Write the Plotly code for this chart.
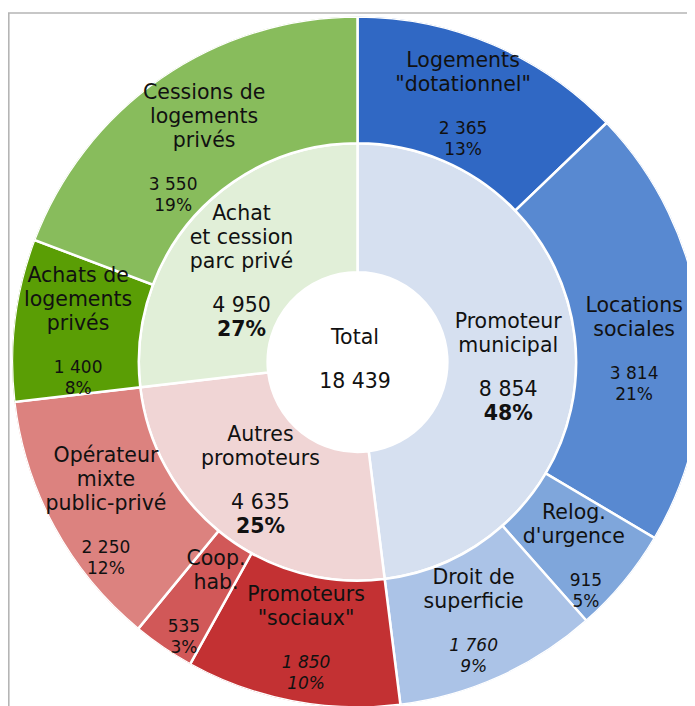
import math
import plotly.graph_objects as go

# ---------------- data ----------------
total_label = "Total"
total_value = 18439

inner_labels = ["Promoteur\nmunicipal", "Autres\npromoteurs", "Achat\net cession\nparc privé"]
inner_values = [8854, 4635, 4950]
inner_pcts = ["48%", "25%", "27%"]

outer_labels = ['Logements\n"dotationnel"', "Locations\nsociales", "Relog.\nd'urgence",
                "Droit de\nsuperficie", 'Promoteurs\n"sociaux"', "Coop.\nhab.",
                "Opérateur\nmixte\npublic-privé", "Achats de\nlogements\nprivés",
                "Cessions de\nlogements\nprivés"]
outer_values = [2365, 3814, 915, 1760, 1850, 535, 2250, 1400, 3550]
outer_pcts = ["13%", "21%", "5%", "9%", "10%", "3%", "12%", "8%", "19%"]
outer_italic = [False, False, False, True, True, False, False, False, False]

inner_colors = ["#D6E0F0", "#F0D5D5", "#E1EFD8"]
outer_colors = ["#3068C4", "#5889D1", "#7FA6DB", "#ABC3E7",
                "#C33133", "#D15858", "#DC827F",
                "#5A9E05", "#88BC5C"]

# ---------------- geometry / style ----------------
W, H = 695, 706
R_OUT = 345.5
R_MID = R_OUT * 219 / 346
R_HOLE = R_OUT * 90 / 346
LEFT, CY = 4, 354
FONT = "DejaVu Sans"
LAB_SIZE = 20.5
NUM_OUT_SIZE = 17
NUM_IN_SIZE = 20.5
PL = 24      # label line pitch
GAP = 44     # last label line -> first number line
PN_OUT = 21
PN_IN = 24
R_TXT_IN = 154
R_TXT_OUT = 282
# hand placement of the text blocks (px): (label dx, number dx, dy)
center_nudge = (-2.5, -2.5, -1.5)
inner_nudge = [(-3, -3, 16), (-2, -2, -1), (-1, -1, 13)]
outer_nudge = [(-5, -5, 4), (-3.5, -3.5, 22), (-1, 11, 17), (0, 0, 4.5), (2, 2, 1.5),
               (17, -15, 9.5), (-4, -4, 16), (0.5, 0.5, 6), (7, -24, 20)]


def fmt(v):
    return f"{v:,}".replace(",", " ")


def angles(values):
    tot = sum(values)
    mids, widths, start = [], [], 0.0
    for v in values:
        w = v / tot * 360
        mids.append(start + w / 2)
        widths.append(w)
        start += w
    return mids, widths


in_mid, in_w = angles(inner_values)
out_mid, out_w = angles(outer_values)

fig = go.Figure()
fig.add_trace(go.Barpolar(
    r=[R_MID - R_HOLE] * len(inner_values), base=R_HOLE, theta=in_mid, width=in_w,
    marker=dict(color=inner_colors, line=dict(color="white", width=2.5)),
    hoverinfo="skip"))
fig.add_trace(go.Barpolar(
    r=[R_OUT - R_MID] * len(outer_values), base=R_MID, theta=out_mid, width=out_w,
    marker=dict(color=outer_colors, line=dict(color="white", width=2.5)),
    hoverinfo="skip"))

# ---------------- text (placed in polar coords) ----------------
t_r, t_th, t_txt, t_size = [], [], [], []


def add_block(rc, thc, labels, lab_size, nums, num_size, pn, nudge):
    dxl, dxn, dyb = nudge
    items, y = [], 0.0
    for i, s in enumerate(labels):
        if i:
            y += PL
        items.append((s, lab_size, y, dxl))
    for j, s in enumerate(nums):
        y += GAP if j == 0 else pn
        items.append((s, num_size, y, dxn))
    mid = y / 2
    bx = rc * math.sin(math.radians(thc))
    by = rc * math.cos(math.radians(thc))   # upwards
    for s, size, yy, dx_extra in items:
        off = yy - mid + dyb                 # downwards, px
        dx, dy = bx + dx_extra, by - off
        t_r.append(math.hypot(dx, dy))
        t_th.append(math.degrees(math.atan2(dx, dy)) % 360)
        t_txt.append(s)
        t_size.append(size)


add_block(0, 0, [total_label], LAB_SIZE, [fmt(total_value)], LAB_SIZE, PN_IN, center_nudge)

for lab, v, p, th, nd in zip(inner_labels, inner_values, inner_pcts, in_mid, inner_nudge):
    add_block(R_TXT_IN, th, lab.split("\n"), LAB_SIZE,
              [fmt(v), f"<b>{p}</b>"], NUM_IN_SIZE, PN_IN, nd)

for lab, v, p, it, th, nd in zip(outer_labels, outer_values, outer_pcts, outer_italic,
                                 out_mid, outer_nudge):
    a, b = fmt(v), p
    if it:
        a, b = f"<i>{a}</i>", f"<i>{b}</i>"
    add_block(R_TXT_OUT, th, lab.split("\n"), LAB_SIZE, [a, b], NUM_OUT_SIZE, PN_OUT, nd)

fig.add_trace(go.Scatterpolar(
    r=t_r, theta=t_th, mode="text", text=t_txt,
    textposition="middle center",
    textfont=dict(family=FONT, size=t_size, color="#111111"),
    cliponaxis=False, hoverinfo="skip"))

fig.update_layout(
    width=W, height=H,
    margin=dict(l=0, r=0, t=0, b=0),
    paper_bgcolor="white",
    showlegend=False,
    polar=dict(
        domain=dict(x=[LEFT / W, (LEFT + 2 * R_OUT) / W],
                    y=[(H - CY - R_OUT) / H, (H - CY + R_OUT) / H]),
        bgcolor="rgba(0,0,0,0)",
        hole=0,
        radialaxis=dict(range=[0, R_OUT], visible=False),
        angularaxis=dict(rotation=90, direction="clockwise", visible=False),
    ),
    shapes=[
        dict(type="line", xref="paper", yref="paper", x0=0.8 / W, x1=0.8 / W,
             y0=0, y1=1 - 5 / H, line=dict(color="#B5B5B5", width=1.6)),
        dict(type="line", xref="paper", yref="paper", x0=0, x1=1,
             y0=1 - 5 / H, y1=1 - 5 / H, line=dict(color="#B5B5B5", width=1.6)),
    ],
)

fig.write_html("out.html")
